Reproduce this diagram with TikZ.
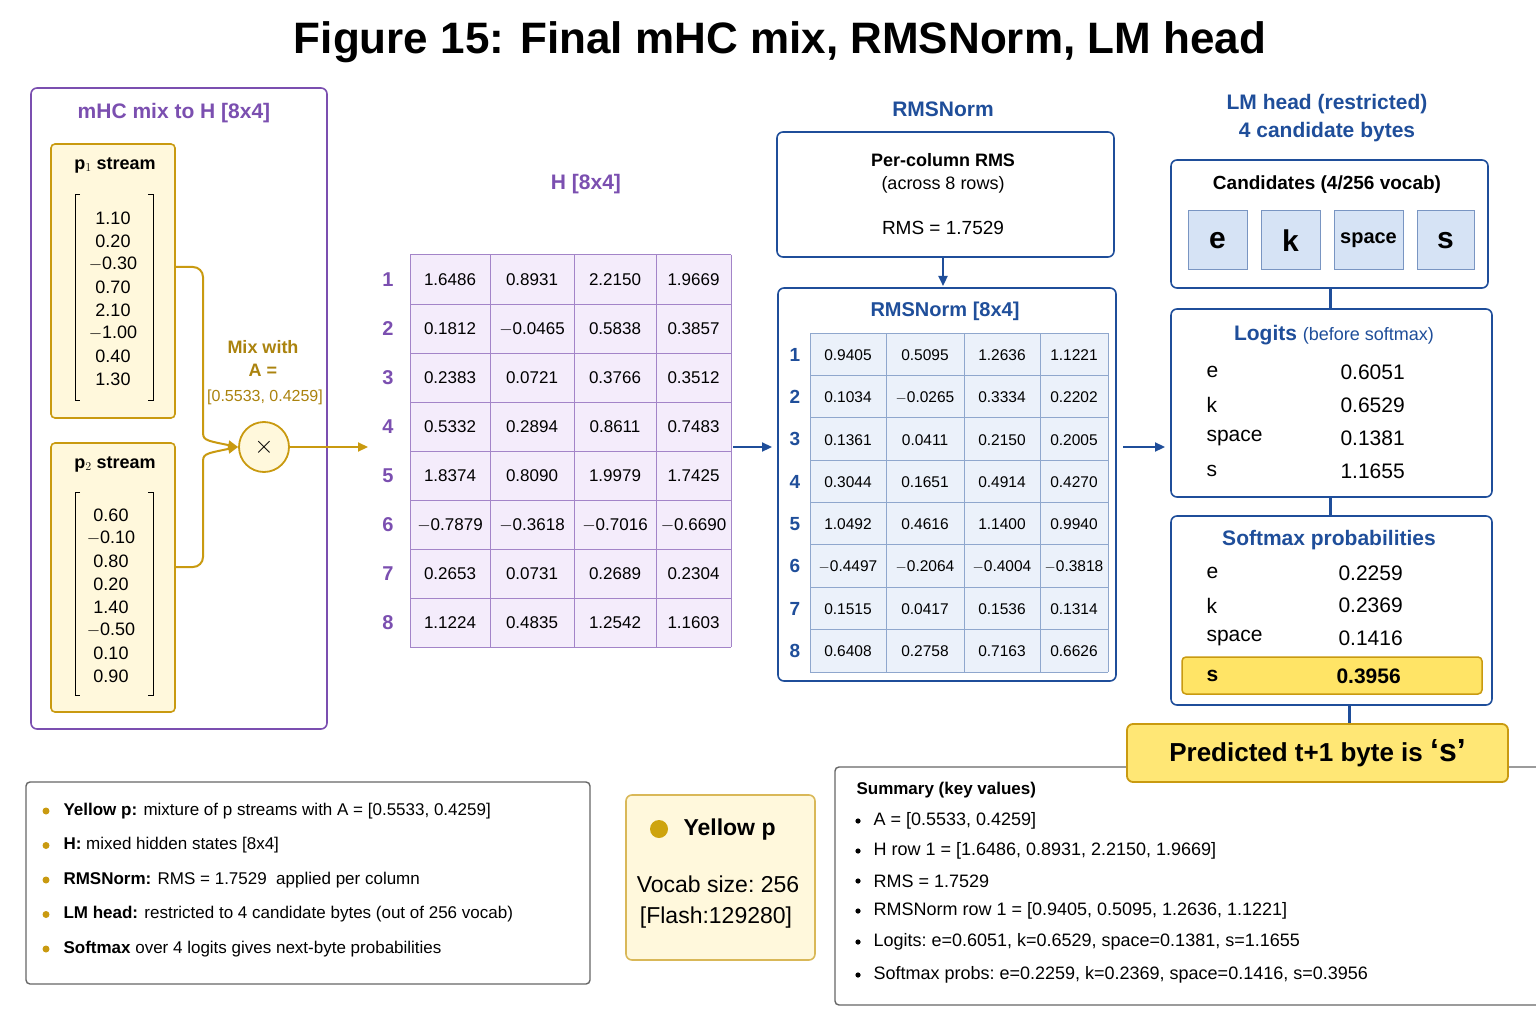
\documentclass[tikz,border=0pt]{standalone}
\usepackage{fontspec}
\setmainfont{Liberation Sans}
\usetikzlibrary{arrows.meta}
\definecolor{pur}{HTML}{7B4FB0}
\definecolor{gold}{HTML}{C99A10}
\definecolor{lyel}{HTML}{FFF8DC}
\definecolor{blu}{HTML}{1F4E9A}
\definecolor{lblu}{HTML}{D6E3F5}
\definecolor{cellp}{HTML}{F4ECFB}
\definecolor{hl}{HTML}{FFE466}
\newcommand{\fs}[1]{\fontsize{#1}{#1}\selectfont}
\tikzset{
 panel/.style={draw=#1,line width=1.6pt,rounded corners=6pt,fill=white},
 arr/.style={-{Triangle[length=10pt,width=9pt]},line width=2.2pt},
 cell/.style={font=\fs{17}},
}
\begin{document}
\begin{tikzpicture}[x=1pt,y=-1pt]
\useasboundingbox (0,0) rectangle (1536,1024);
\node (title) at (780,42) {\fs{44}\bfseries Figure 15: Final mHC mix, RMSNorm, LM head};
% left panel
\draw[panel=pur] (31,88) rectangle (327,729);
\node[text=pur] (lt) at (174,113) {\fs{21}\bfseries mHC mix to H [8x4]};
\draw[draw=gold,fill=lyel,line width=1.6pt,rounded corners=4pt] (51,144) rectangle (175,418);
\draw[draw=gold,fill=lyel,line width=1.6pt,rounded corners=4pt] (51,443) rectangle (175,712);
\coordinate (p1) at (175,267); \coordinate (p2) at (175,567);
\node (p1t) at (115,165) {\fs{18}\bfseries p$_1$ stream};
\node (p2t) at (115,464) {\fs{18}\bfseries p$_2$ stream};
\foreach \v [count=\i] in {1.10,0.20,$-$0.30,0.70,2.10,$-$1.00,0.40,1.30}
  \node[font=\fs{18}] (a\i) at (113,218+23*\i-23) {\v};
\foreach \v [count=\i] in {0.60,$-$0.10,0.80,0.20,1.40,$-$0.50,0.10,0.90}
  \node[font=\fs{18}] (b\i) at (111,515+23*\i-23) {\v};
\draw[line width=1pt] (80,195)--(75,195)--(75,400)--(80,400) (148,195)--(153,195)--(153,400)--(148,400);
\draw[line width=1pt] (80,492)--(75,492)--(75,695)--(80,695) (148,492)--(153,492)--(153,695)--(148,695);
\node[draw=gold,fill=lyel,circle,line width=1.8pt,minimum size=50pt,inner sep=0] (mix) at (264,447) {\fs{28}$\times$};
\draw[gold,line width=2pt,-{Triangle[length=10pt,width=9pt]},rounded corners=10pt] (p1)--(203,267)--(203,420)..controls(203,440)..(mix.west);
\draw[gold,line width=2pt,-{Triangle[length=10pt,width=9pt]},rounded corners=10pt] (p2)--(203,567)--(203,474)..controls(203,454)..(mix.west);
\coordinate (hin) at (368,447);
\draw[gold,arr] (mix)--(hin);
\node[text=gold!85!black] (mw) at (263,347) {\fs{18}\bfseries Mix with};
\node[text=gold!85!black] at (263,370) {\fs{18}\bfseries A =};
\node[text=gold!85!black] at (265,397) {\fs{16}[0.5533, 0.4259]};
% H table
\node[text=pur] (ht) at (586,184) {\fs{21}\bfseries H [8x4]};
\fill[cellp] (410,255) rectangle (731,647);
\foreach \x in {410,490,574,656,731} \draw[pur!70,line width=1pt] (\x,255)--(\x,647);
\foreach \r in {0,...,8} \draw[pur!70,line width=1pt] (410,255+49*\r)--(731,255+49*\r);
\foreach \row [count=\i] in {{1.6486,0.8931,2.2150,1.9669},{0.1812,$-$0.0465,0.5838,0.3857},{0.2383,0.0721,0.3766,0.3512},{0.5332,0.2894,0.8611,0.7483},{1.8374,0.8090,1.9979,1.7425},{$-$0.7879,$-$0.3618,$-$0.7016,$-$0.6690},{0.2653,0.0731,0.2689,0.2304},{1.1224,0.4835,1.2542,1.1603}}{
  \node[text=pur,font=\fs{20}\bfseries] at (388,279.5+49*\i-49) {\i};
  \foreach \v [count=\j] in \row {
    \pgfmathsetmacro{\cx}{{450,532,615,693.5}[\j-1]}
    \node[cell] at (\cx,280+49*\i-49) {\v};
  }
}
\coordinate (hout) at (733,447); \coordinate (rin) at (772,447);
\draw[blu,arr] (hout)--(rin);
% RMSNorm
\node[text=blu] (rt) at (943,109) {\fs{21}\bfseries RMSNorm};
\draw[panel=blu] (777,132) rectangle (1114,257);
\node (r1) at (943,160) {\fs{18}\bfseries Per-column RMS};
\node at (943,185) {\fs{18}(across 8 rows)};
\node at (943,228) {\fs{19}RMS = 1.7529};
\coordinate (rb) at (943,257); \coordinate (rt2) at (943,286);
\draw[blu,arr] (rb)--(rt2);
\draw[panel=blu] (778,288) rectangle (1116,681);
\node[text=blu] at (945,311) {\fs{20}\bfseries RMSNorm [8x4]};
\fill[lblu!50] (810,333) rectangle (1108,672);
\foreach \x in {810,886,964,1040,1108} \draw[blu!50,line width=1pt] (\x,333)--(\x,672);
\foreach \r in {0,...,8} \draw[blu!50,line width=1pt] (810,333+42.375*\r)--(1108,333+42.375*\r);
\foreach \row [count=\i] in {{0.9405,0.5095,1.2636,1.1221},{0.1034,$-$0.0265,0.3334,0.2202},{0.1361,0.0411,0.2150,0.2005},{0.3044,0.1651,0.4914,0.4270},{1.0492,0.4616,1.1400,0.9940},{$-$0.4497,$-$0.2064,$-$0.4004,$-$0.3818},{0.1515,0.0417,0.1536,0.1314},{0.6408,0.2758,0.7163,0.6626}}{
  \node[text=blu,font=\fs{19}\bfseries] at (795,354.5+42.375*\i-42.375) {\i};
  \foreach \v [count=\j] in \row {
    \pgfmathsetmacro{\cx}{{848,925,1002,1074}[\j-1]}
    \node[font=\fs{15.5}] at (\cx,355+42.375*\i-42.375) {\v};
  }
}
\coordinate (rout) at (1123,447); \coordinate (lin) at (1165,447);
\draw[blu,arr] (rout)--(lin);
% LM head
\node[text=blu] (lmt) at (1327,104) {\fs{21}\bfseries LM head (restricted)};
\node[text=blu] at (1327,132) {\fs{21}\bfseries 4 candidate bytes};
\draw[panel=blu] (1171,160) rectangle (1488,288);
\node at (1327,185) {\fs{19}\bfseries Candidates (4/256 vocab)};
\foreach \a/\b/\t/\s in {1188/1247/e/30,1261/1320/k/30,1334/1403/space/20,1417/1474/s/30}
  \node[draw=blu!60,fill=lblu,line width=1pt,minimum height=59pt,minimum width={\b-\a},inner sep=0] at ({(\a+\b)/2},240.5) {\fs{\s}\bfseries \t};
\draw[panel=blu] (1171,309) rectangle (1492,497);
\draw[panel=blu] (1171,516) rectangle (1492,705);
\draw[blu,line width=3pt] (1330,288)--(1330,309) (1330,497)--(1330,516) (1349,705)--(1349,724);
\node[text=blu] at (1334,335) {\fs{21}\bfseries Logits \fs{18}\mdseries(before softmax)};
\foreach \l/\v [count=\i] in {e/0.6051,k/0.6529,space/0.1381,s/1.1655}{
  \node[anchor=west] at (1203,372+33*\i-33) {\fs{21}\l};
  \node[anchor=west] at (1337,372+33*\i-33) {\fs{21}\v};}
\node[text=blu] at (1329,540) {\fs{21}\bfseries Softmax probabilities};
\foreach \l/\v [count=\i] in {e/0.2259,k/0.2369,space/0.1416}{
  \node[anchor=west] at (1203,573+32.5*\i-32.5) {\fs{21}\l};
  \node[anchor=west] at (1335,573+32.5*\i-32.5) {\fs{21}\v};}
\draw[draw=gold,fill=hl,line width=1.5pt,rounded corners=4pt] (1182,657) rectangle (1482,694);
\node[anchor=west] at (1203,676) {\fs{21}\bfseries s};
\node[anchor=west] at (1333,676) {\fs{21}\bfseries 0.3956};
% summary
\draw[line width=1.4pt,draw=black!60,fill=white,rounded corners=4pt] (1536,767)--(835,767)--(835,1005)--(1536,1005);
\node[draw=gold,fill=hl!90,line width=1.8pt,rounded corners=6pt,minimum width=381pt,minimum height=58pt] (pred) at (1317.5,753) {\fs{26}\bfseries Predicted t+1 byte is \fs{32}‘s’};
\node[anchor=west] at (853,790) {\fs{17}\bfseries Summary (key values)};
\foreach \t/\yy in {{A = [0.5533, 0.4259]}/821,{H row 1 = [1.6486, 0.8931, 2.2150, 1.9669]}/851,{RMS = 1.7529}/881,{RMSNorm row 1 = [0.9405, 0.5095, 1.2636, 1.1221]}/911,{Logits:\ e=0.6051, k=0.6529, space=0.1381, s=1.1655}/942,{Softmax probs:\ e=0.2259, k=0.2369, space=0.1416, s=0.3956}/975}{
  \fill (858,\yy) circle (2.6pt);
  \node[anchor=west] at (870,\yy) {\fs{18}\t};}
% legend
\foreach \b/\t [count=\i] in {{Yellow p:}/{mixture of p streams with A = [0.5533, 0.4259]},{H:}/{mixed hidden states [8x4]},{RMSNorm:}/{RMS = 1.7529\ \ applied per column},{LM head:}/{restricted to 4 candidate bytes (out of 256 vocab)},{Softmax}/{over 4 logits gives next-byte probabilities}}{
  \fill[gold] (46,811+34.5*\i-34.5) circle (3.5pt);
  \node[anchor=west] at (60,811+34.5*\i-34.5) {\fs{17}\textbf{\b} \t};}
\draw[line width=1.4pt,draw=black!60,rounded corners=4pt] (26,782) rectangle (590,984);
% yellow p box
\draw[draw=gold!70,fill=lyel,line width=1.6pt,rounded corners=6pt] (626,795) rectangle (815,960);
\fill[gold!90!yellow] (659,829) circle (9pt);
\node[anchor=west] at (680,830) {\fs{23}\bfseries Yellow p};
\node (vs) at (718,884) {\fs{23}Vocab size:\ 256};
\node at (716,918) {\fs{23}[Flash:129280]};
\end{tikzpicture}
\end{document}
